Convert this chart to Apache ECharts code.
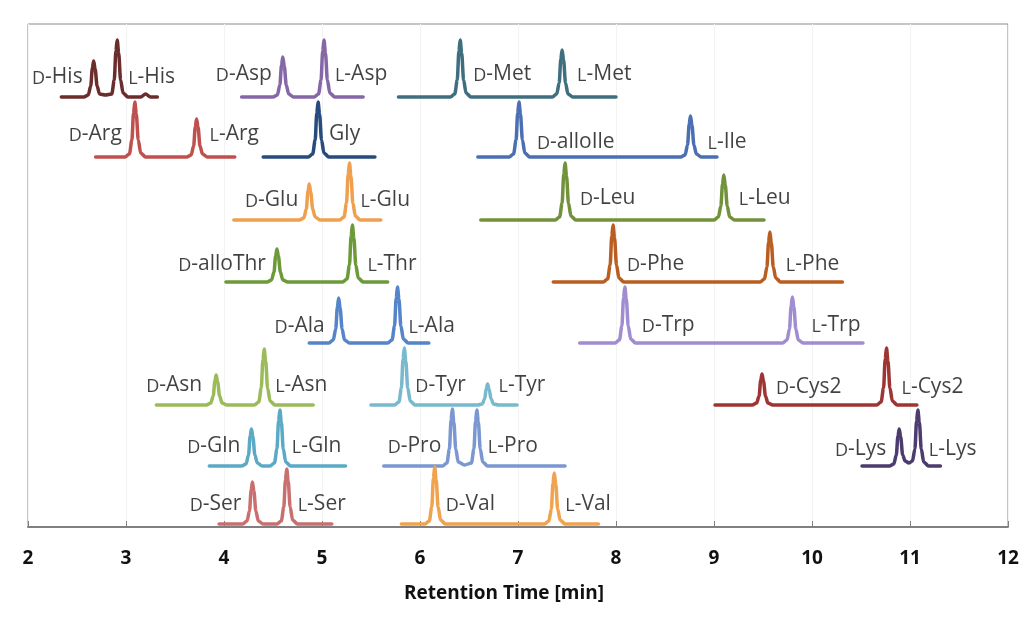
<!DOCTYPE html>
<html>
<head>
<meta charset="utf-8">
<script src="https://cdn.jsdelivr.net/npm/echarts@6/dist/echarts.min.js"></script>
<style>
html,body{margin:0;padding:0;background:#fff;}
#chart{width:1033px;height:621px;}
</style>
</head>
<body>
<div id="chart"></div>
<script>
// ---- DATA: retention time [min], detector signal (arbitrary units, offset per trace) ----
const xTicks = [2, 3, 4, 5, 6, 7, 8, 9, 10, 11, 12];
const traceNames = ['His','Asp','Met','Arg','Gly','Ile','Glu','Leu','Thr','Phe','Ala','Trp','Asn','Tyr','Cys2','Gln','Pro','Lys','Ser','Val'];
const peakLabels = [
  ['D-His','L-His'], ['D-Asp','L-Asp'], ['D-Met','L-Met'], ['D-Arg','L-Arg'], ['Gly'],
  ['D-alloIle','L-Ile'], ['D-Glu','L-Glu'], ['D-Leu','L-Leu'], ['D-alloThr','L-Thr'], ['D-Phe','L-Phe'],
  ['D-Ala','L-Ala'], ['D-Trp','L-Trp'], ['D-Asn','L-Asn'], ['D-Tyr','L-Tyr'], ['D-Cys2','L-Cys2'],
  ['D-Gln','L-Gln'], ['D-Pro','L-Pro'], ['D-Lys','L-Lys'], ['D-Ser','L-Ser'], ['D-Val','L-Val']
];

const His = [[2.34,430],[2.57,430],[2.615,432],[2.64,441],[2.657,459],[2.67,466],[2.685,458],[2.705,441],[2.73,433],[2.79,432],[2.855,433],[2.88,447],[2.897,476],[2.91,487],[2.925,474],[2.945,447],[2.97,434],[3.02,430],[3.15,430],[3.2,433],[3.25,430],[3.32,430]];
const Asp = [[4.18,430],[4.50,430],[4.545,432],[4.57,442],[4.587,462],[4.60,470],[4.615,461],[4.635,442],[4.66,433],[4.71,430],[4.92,430],[4.965,433],[4.99,447],[5.007,476],[5.02,487],[5.035,474],[5.055,447],[5.08,434],[5.13,430],[5.42,430]];
const Met = [[5.78,430],[6.31,430],[6.355,433],[6.38,447],[6.397,476],[6.41,487],[6.425,474],[6.445,447],[6.47,434],[6.52,430],[7.35,430],[7.395,433],[7.42,444],[7.437,468],[7.45,477],[7.465,467],[7.485,444],[7.51,433],[7.56,430],[8.0,430]];
const Arg = [[2.69,370],[2.99,370],[3.035,373],[3.06,387],[3.077,414],[3.09,425],[3.105,413],[3.125,387],[3.15,374],[3.20,370],[3.62,370],[3.665,372],[3.69,381],[3.707,400],[3.72,408],[3.735,400],[3.755,381],[3.78,373],[3.83,370],[4.11,370]];
const Gly = [[4.40,370],[4.86,370],[4.905,373],[4.93,387],[4.947,414],[4.96,425],[4.975,413],[4.995,387],[5.02,374],[5.07,370],[5.54,370]];
const Ile = [[6.59,370],[6.91,370],[6.955,373],[6.98,387],[6.997,414],[7.01,425],[7.025,413],[7.045,387],[7.07,374],[7.12,370],[8.66,370],[8.705,372],[8.73,382],[8.747,403],[8.76,411],[8.775,402],[8.795,382],[8.82,373],[8.87,370],[9.03,370]];
const Glu = [[4.10,307],[4.77,307],[4.815,309],[4.84,318],[4.857,336],[4.87,343],[4.885,335],[4.905,318],[4.93,310],[4.98,307],[5.18,307],[5.225,310],[5.25,324],[5.267,353],[5.28,364],[5.295,351],[5.315,324],[5.34,311],[5.39,307],[5.60,307]];
const Leu = [[6.62,307],[7.38,307],[7.425,310],[7.45,324],[7.467,353],[7.48,364],[7.495,351],[7.515,324],[7.54,311],[7.59,307],[9.00,307],[9.045,310],[9.07,321],[9.087,343],[9.10,352],[9.115,342],[9.135,321],[9.16,310],[9.21,307],[9.51,307]];
const Thr = [[4.02,245],[4.44,245],[4.485,247],[4.51,255],[4.527,271],[4.54,278],[4.555,271],[4.575,255],[4.60,247],[4.65,245],[5.21,245],[5.255,248],[5.28,262],[5.297,291],[5.31,302],[5.325,289],[5.345,262],[5.37,249],[5.42,245],[5.67,245]];
const Phe = [[7.36,245],[7.87,245],[7.915,248],[7.94,262],[7.957,291],[7.97,302],[7.985,289],[8.005,262],[8.03,249],[8.08,245],[9.47,245],[9.515,248],[9.54,260],[9.557,285],[9.57,295],[9.585,284],[9.605,260],[9.63,249],[9.68,245],[10.31,245]];
const Ala = [[4.87,184],[5.07,184],[5.115,187],[5.14,198],[5.157,220],[5.17,229],[5.185,219],[5.205,198],[5.23,187],[5.28,184],[5.67,184],[5.715,187],[5.74,201],[5.757,229],[5.77,240],[5.785,228],[5.805,201],[5.83,188],[5.88,184],[6.09,184]];
const Trp = [[7.63,184],[7.99,184],[8.035,187],[8.06,201],[8.077,229],[8.09,240],[8.105,228],[8.125,201],[8.15,188],[8.20,184],[9.70,184],[9.745,187],[9.77,198],[9.787,221],[9.80,230],[9.815,220],[9.835,198],[9.86,187],[9.91,184],[10.52,184]];
const Asn = [[3.31,122],[3.82,122],[3.865,124],[3.89,131],[3.907,146],[3.92,152],[3.935,145],[3.955,131],[3.98,124],[4.03,122],[4.31,122],[4.355,125],[4.38,139],[4.397,167],[4.41,178],[4.425,166],[4.445,139],[4.47,126],[4.52,122],[4.91,122]];
const Tyr = [[5.50,122],[5.74,122],[5.785,125],[5.81,139],[5.827,168],[5.84,179],[5.855,166],[5.875,139],[5.90,126],[5.95,122],[6.59,122],[6.635,123],[6.66,128],[6.677,139],[6.69,143],[6.705,138],[6.725,128],[6.75,123],[6.80,122],[6.99,122]];
const Cys2 = [[9.01,122],[9.39,122],[9.435,124],[9.46,131],[9.477,147],[9.49,153],[9.505,146],[9.525,131],[9.55,124],[9.60,122],[10.66,122],[10.705,125],[10.73,139],[10.747,168],[10.76,179],[10.775,166],[10.795,139],[10.82,126],[10.87,122],[11.07,122]];
const Gln = [[3.85,61],[4.18,61],[4.225,63],[4.25,72],[4.267,91],[4.28,98],[4.295,90],[4.315,72],[4.34,64],[4.39,61],[4.47,61],[4.515,64],[4.54,78],[4.557,106],[4.57,117],[4.585,105],[4.605,78],[4.63,65],[4.68,61],[5.24,61]];
const Pro = [[5.63,61],[6.23,61],[6.275,64],[6.30,78],[6.317,107],[6.33,118],[6.345,105],[6.365,78],[6.39,65],[6.455,62],[6.525,64],[6.55,78],[6.567,106],[6.58,117],[6.595,105],[6.615,78],[6.64,65],[6.69,61],[7.48,61]];
const Lys = [[10.51,61],[10.79,61],[10.835,63],[10.86,72],[10.877,91],[10.89,98],[10.905,90],[10.925,72],[10.95,66],[10.99,64],[11.025,66],[11.05,78],[11.067,106],[11.08,117],[11.095,105],[11.115,78],[11.14,65],[11.19,61],[11.31,61]];
const Ser = [[3.95,3],[4.19,3],[4.235,6],[4.26,16],[4.277,37],[4.29,45],[4.305,36],[4.325,16],[4.35,6],[4.40,3],[4.54,3],[4.585,6],[4.61,20],[4.627,47],[4.64,58],[4.655,46],[4.675,20],[4.70,7],[4.75,3],[5.10,3]];
const Val = [[5.81,3],[6.05,3],[6.095,6],[6.12,20],[6.137,49],[6.15,60],[6.165,47],[6.185,20],[6.21,7],[6.26,3],[7.27,3],[7.315,6],[7.34,18],[7.357,44],[7.37,54],[7.385,43],[7.405,18],[7.43,7],[7.48,3],[7.82,3]];

const traceData = [His, Asp, Met, Arg, Gly, Ile, Glu, Leu, Thr, Phe, Ala, Trp, Asn, Tyr, Cys2, Gln, Pro, Lys, Ser, Val];

// ---- STYLE / LAYOUT ----
const traceColors = {
  His:'#6b2c2c', Asp:'#8567a8', Met:'#3f6f7f', Arg:'#c0504d', Gly:'#274b7c', Ile:'#4b6fb3',
  Glu:'#eea04e', Leu:'#71923a', Thr:'#6c9a38', Phe:'#b95d20', Ala:'#5584c8', Trp:'#a08cd0',
  Asn:'#9bbb59', Tyr:'#78b9cd', Cys2:'#9e3433', Gln:'#5aaac6', Pro:'#7a97d2', Lys:'#4b3b6e',
  Ser:'#c96f6f', Val:'#f0a24c'
};
const dLabelLeft = ['His','Asp','Arg','Glu','Thr','Ala','Asn','Gln','Ser','Pro','Lys'];
const labelFont = 'Open Sans';
const labelRiseDefault = 20;
const labelRise = { Asp: 23, Met: 23, Arg: 23, Gly: 23, Ile: 15, Leu: 22, Thr: 18, Phe: 18, Ala: 17, Trp: 18, Cys2: 18, Lys: 17 };
const labelGapDefault = 11;
const labelGap = {
  'D-Met': 13, 'L-Met': 15, 'D-Arg': 13, 'L-Arg': 13, 'D-alloIle': 18, 'L-Ile': 17,
  'D-Leu': 15, 'L-Leu': 15, 'D-Phe': 14, 'L-Phe': 16, 'D-Trp': 17, 'L-Trp': 19,
  'L-Thr': 15, 'D-Ala': 14, 'D-Asn': 14, 'D-Cys2': 14, 'L-Cys2': 15, 'D-Lys': 13, 'L-Gln': 12
};

const series = [];
const labelItems = [];
traceData.forEach((d, i) => {
  const nm = traceNames[i];
  series.push({
    type: 'line', name: nm, data: d, showSymbol: false, smooth: 0.3, smoothMonotone: 'x',
    clip: false, animation: false, z: 3,
    lineStyle: { width: 3.5, color: traceColors[nm], cap: 'round', join: 'round' },
    itemStyle: { color: traceColors[nm] }
  });
  const base = d[0][1];
  const peaks = d.filter((p, j) => j > 0 && j < d.length - 1 && p[1] > d[j-1][1] && p[1] >= d[j+1][1] && p[1] - base > 10);
  peakLabels[i].forEach((lab, j) => {
    const left = (j === 0 && lab.startsWith('D-') && dLabelLeft.includes(nm));
    labelItems.push({
      name: lab,
      value: [peaks[j][0], base + (labelRise[nm] !== undefined ? labelRise[nm] : labelRiseDefault)],
      label: { position: left ? 'left' : 'right', distance: labelGap[lab] || labelGapDefault }
    });
  });
});

function fmt(p) {
  const s = p.name;
  if (s.startsWith('D-') || s.startsWith('L-')) return '{s|' + s[0] + '}{n|' + s.slice(1) + '}';
  return '{n|' + s + '}';
}

series.push({
  type: 'scatter', data: labelItems, symbolSize: 0, silent: true, animation: false, z: 5, clip: false,
  label: {
    show: true, distance: labelGapDefault, formatter: fmt, color: '#111',
    rich: {
      s: { fontSize: 18, fontFamily: labelFont, color: '#111', verticalAlign: 'bottom' },
      n: { fontSize: 21, fontFamily: labelFont, color: '#111', verticalAlign: 'bottom' }
    }
  }
});

const chart = echarts.init(document.getElementById('chart'), null, { renderer: 'canvas' });
chart.setOption({
  animation: false,
  backgroundColor: '#ffffff',
  grid: { left: 28, right: 25, top: 24, bottom: 94, show: true, borderColor: '#8a8a8a', borderWidth: 1, backgroundColor: 'transparent' },
  xAxis: {
    type: 'value', min: xTicks[0], max: xTicks[xTicks.length - 1], interval: 1,
    name: 'Retention Time [min]', nameLocation: 'middle', nameGap: 57,
    nameTextStyle: { fontSize: 19, fontWeight: 'bold', fontFamily: labelFont, color: '#111', padding: [0, 28, 0, 0] },
    axisLine: { show: true, lineStyle: { color: '#808080', width: 2 } },
    axisTick: { show: true, inside: true, length: 6, lineStyle: { color: '#808080', width: 1 } },
    axisLabel: { margin: 22, fontSize: 19, fontWeight: 'bold', fontFamily: labelFont, color: '#111' },
    splitLine: { show: true, lineStyle: { color: '#f3f3f3', width: 1 } }
  },
  yAxis: { type: 'value', min: 0, max: 503, show: false, splitLine: { show: false } },
  series: series
});
</script>
</body>
</html>
